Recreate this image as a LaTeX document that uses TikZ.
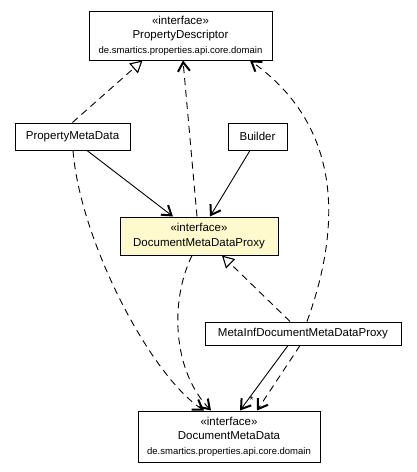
\documentclass[tikz,border=0pt]{standalone}
\usepackage{fontspec}
\setmainfont{Liberation Sans}
\usetikzlibrary{arrows.meta}

\definecolor{zitrone}{RGB}{255,250,205}
\newcommand{\paket}{{\fontsize{9.5}{12}\selectfont de.smartics.properties.api.core.domain}}

\tikzset{
  klasse/.style={draw, line width=1pt, fill=white, inner sep=0pt, align=center,
    font=\fontsize{11.5}{14.5}\selectfont},
  abh/.style={dash pattern=on 7pt off 5pt, -{Straight Barb[length=9pt,width=12pt,line width=2pt]}},
  real/.style={dash pattern=on 7pt off 5pt, -{Triangle[open,length=12pt,width=13pt,fill=white,line width=1.1pt]}},
  assoz/.style={-{Straight Barb[length=9pt,width=12pt,line width=2pt]}}
}

\begin{document}
\begin{tikzpicture}[x=1pt, y=-1pt, line width=0.9pt]
\useasboundingbox (0,0) rectangle (416,472);

% Klassen und Schnittstellen
\node[klasse, minimum width=183pt, minimum height=49pt] (pd) at (180.5,35.5)
  {«interface»\\PropertyDescriptor\\\paket};
\node[klasse, minimum width=115pt, minimum height=27pt] (pmd) at (72.5,136.5) {PropertyMetaData};
\node[klasse, minimum width=59pt, minimum height=27pt] (bld) at (257.5,136.5) {Builder};
\node[klasse, fill=zitrone, minimum width=158pt, minimum height=38pt] (dmdp) at (199,236)
  {«interface»\\DocumentMetaDataProxy};
\node[klasse, minimum width=196pt, minimum height=23pt] (mi) at (303,333.5) {MetaInfDocumentMetaDataProxy};
\node[klasse, minimum width=182pt, minimum height=51pt] (dmd) at (229,436.5)
  {«interface»\\DocumentMetaData\\\paket};

% Realisierungen
\draw[real] (pmd.north) -- ([xshift=-38pt]pd.south);
\draw[real] ([xshift=-13pt]mi.north) -- ([xshift=23pt]dmdp.south);

% Abhaengigkeiten
\draw[abh] ([xshift=-2pt]dmdp.north) -- ([xshift=2.5pt]pd.south);
\draw[abh] ([xshift=4pt]mi.north) .. controls (333,250) and (355,135) .. ([xshift=69.5pt]pd.south);
\draw[abh] ([xshift=0.5pt]pmd.south) .. controls (80,240) and (150,375) .. ([xshift=-25pt]dmd.north);
\draw[abh] ([xshift=-7pt]dmdp.south) .. controls (170,300) and (172,370) .. ([xshift=-18pt]dmd.north);
\draw[abh] ([xshift=-3pt]mi.south) -- ([xshift=28pt]dmd.north);

% Assoziationen
\draw[assoz] ([xshift=14.5pt]pmd.south) -- ([xshift=-26pt]dmdp.north);
\draw[assoz] ([xshift=-7.5pt]bld.south) -- ([xshift=11pt]dmdp.north);
\draw[assoz] ([xshift=-15pt]mi.south) -- ([xshift=11pt]dmd.north)
  node[pos=0.84, right, inner sep=1.5pt, font=\fontsize{10}{10}\selectfont] (stern) {*};
\end{tikzpicture}
\end{document}
